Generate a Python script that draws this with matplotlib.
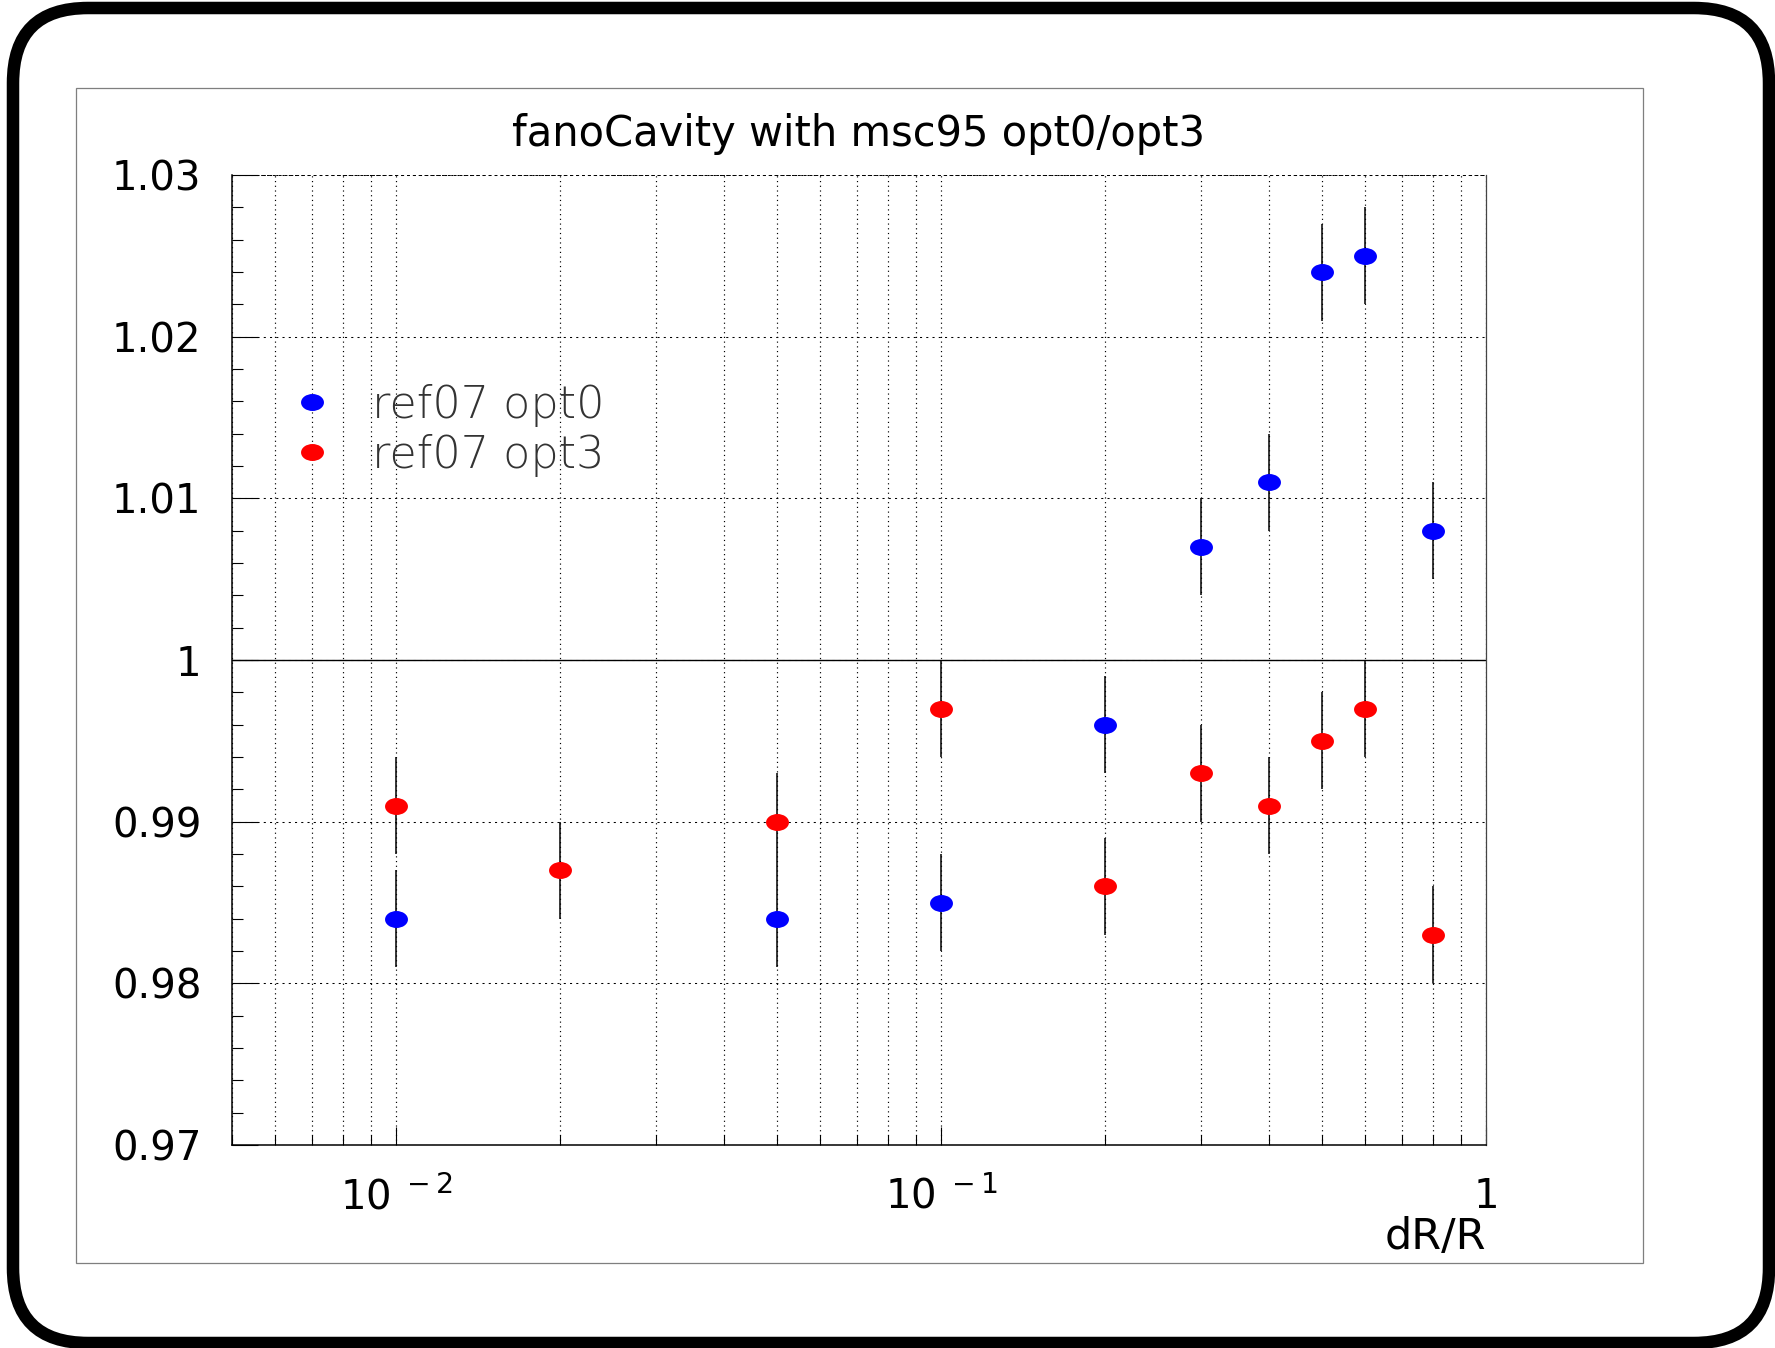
import matplotlib
matplotlib.use('Agg')
import matplotlib.pyplot as plt
from matplotlib.patches import FancyBboxPatch, Rectangle
from matplotlib.path import Path
from matplotlib.ticker import FixedLocator, FixedFormatter, NullFormatter

plt.rcParams['font.family'] = ['DejaVu Sans']
plt.rcParams['mathtext.fontset'] = 'custom'
plt.rcParams['mathtext.rm'] = 'DejaVu Sans'

TITLE = 'fanoCavity with msc95 opt0/opt3'

# dR/R values and ratios
x_opt0 = [0.01, 0.05, 0.1, 0.2, 0.3, 0.4, 0.5, 0.6, 0.8]
y_opt0 = [0.984, 0.984, 0.985, 0.996, 1.007, 1.011, 1.024, 1.025, 1.008]
err_opt0 = [0.003, 0.003, 0.003, 0.003, 0.003, 0.003, 0.003, 0.003, 0.003]

x_opt3 = [0.01, 0.02, 0.05, 0.1, 0.2, 0.3, 0.4, 0.5, 0.6, 0.8]
y_opt3 = [0.991, 0.987, 0.990, 0.997, 0.986, 0.993, 0.991, 0.995, 0.997, 0.983]
err_opt3 = [0.003, 0.003, 0.003, 0.003, 0.003, 0.003, 0.003, 0.003, 0.003, 0.003]

labels = ['ref07 opt0', 'ref07 opt3']

y_ticks = [0.97, 0.98, 0.99, 1.0, 1.01, 1.02, 1.03]
y_ticklabels = ['0.97', '0.98', '0.99', '1', '1.01', '1.02', '1.03']
x_ticks = [0.01, 0.1, 1.0]
x_ticklabels = [r'$\mathregular{10^{\ -2}}$', r'$\mathregular{10^{\ -1}}$', '1']

W, H = 1775, 1348
fig = plt.figure(figsize=(W / 100, H / 100), dpi=100)


def fx(px):
    return px / W


def fy(py):
    return 1 - py / H


# outer rounded frame and inner pad box
frame = FancyBboxPatch((0.13, 0.05), 17.56, 13.35,
                       boxstyle='round,pad=0,rounding_size=0.75',
                       transform=fig.dpi_scale_trans, fill=False,
                       edgecolor='black', linewidth=9, zorder=0)
fig.add_artist(frame)
pad_box = Rectangle((fx(76), fy(1263)), fx(1643) - fx(76), fy(88) - fy(1263),
                    transform=fig.transFigure, fill=False,
                    edgecolor='#7f7f7f', linewidth=0.9, zorder=0)
fig.add_artist(pad_box)

ax = fig.add_axes([fx(232), fy(1145), fx(1486) - fx(232), fy(175) - fy(1145)])
ax.set_xscale('log')
ax.set_xlim(0.005, 1.0)
ax.set_ylim(0.97, 1.03)

# ROOT style circles come out as ellipses after the canvas was stretched
circ = Path.unit_circle()
ellipse = Path(circ.vertices * [1.0, 0.74], circ.codes)

ax.errorbar(x_opt0, y_opt0, yerr=err_opt0, fmt='none', ecolor='black',
            elinewidth=1.1, capsize=0, zorder=3)
ax.errorbar(x_opt3, y_opt3, yerr=err_opt3, fmt='none', ecolor='black',
            elinewidth=1.1, capsize=0, zorder=3)
ax.plot(x_opt0, y_opt0, ls='none', marker=ellipse, ms=16.5, color='#0000ff',
        mec='none', label=labels[0], zorder=4)
ax.plot(x_opt3, y_opt3, ls='none', marker=ellipse, ms=16.5, color='#ff0000',
        mec='none', label=labels[1], zorder=4)

ax.axhline(1.0, color='black', linewidth=1.0, zorder=2)

ax.yaxis.set_major_locator(FixedLocator(y_ticks))
ax.yaxis.set_major_formatter(FixedFormatter(y_ticklabels))
ax.yaxis.set_minor_locator(FixedLocator([0.97 + 0.002 * i for i in range(31)]))
ax.xaxis.set_major_locator(FixedLocator(x_ticks))
ax.xaxis.set_major_formatter(FixedFormatter(x_ticklabels))
minor_x = [m * d for d in (0.001, 0.01, 0.1) for m in range(2, 10)]
ax.xaxis.set_minor_locator(FixedLocator([v for v in minor_x if 0.005 <= v <= 1]))
ax.xaxis.set_minor_formatter(NullFormatter())

ax.tick_params(axis='y', which='major', direction='in', length=18.5, width=0.8,
               labelsize=29, pad=22, left=True, right=False)
ax.tick_params(axis='y', which='minor', direction='in', length=8, width=0.8,
               left=True, right=False)
ax.tick_params(axis='x', which='major', direction='in', length=13, width=0.8,
               labelsize=29, pad=23, bottom=True, top=False)
ax.tick_params(axis='x', which='minor', direction='in', length=7, width=0.8,
               bottom=True, top=False)

ax.grid(True, axis='y', which='major', color='black', linestyle=(0, (2, 4)), linewidth=0.75)
ax.grid(True, axis='x', which='both', color='black', linestyle=(0, (1, 3)), linewidth=0.85)

for side in ('left', 'bottom'):
    ax.spines[side].set_linewidth(1.1)
ax.spines['right'].set_linewidth(0.9)
ax.spines['right'].set_color('#444444')
ax.spines['top'].set_linestyle((0, (2, 4)))
ax.spines['top'].set_linewidth(0.7)

ax.set_xlabel('dR/R', fontsize=31, ha='right', va='center')
ax.xaxis.set_label_coords(1.0, -(1237 - 1145) / (1145 - 175))

fig.text(fx(859), fy(134), TITLE, fontsize=30, ha='center', va='center')

ax.legend(loc='upper left', bbox_to_anchor=(fx(290), fy(384)),
          bbox_transform=fig.transFigure, frameon=False,
          handlelength=1.0, handletextpad=0.85, labelspacing=0.15,
          borderpad=0, borderaxespad=0, numpoints=1,
          prop={'size': 32, 'weight': 'light'})
for t in ax.get_legend().get_texts():
    t.set_color('#333333')

fig.savefig('out.png', dpi=100)
